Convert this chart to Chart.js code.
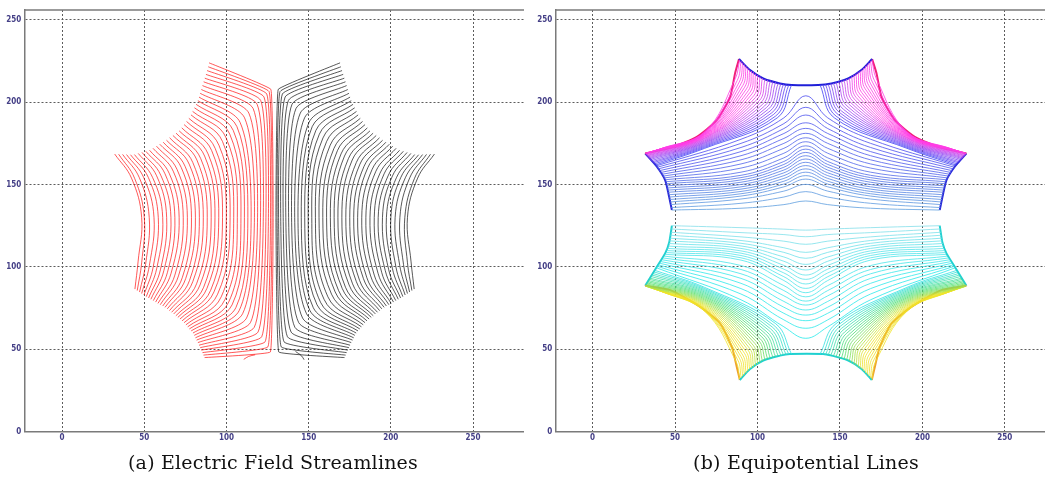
<!DOCTYPE html>
<html>
<head>
<meta charset="utf-8">
<script src="https://cdn.jsdelivr.net/npm/chart.js@4.4.0/dist/chart.umd.min.js"></script>
<style>
html, body { margin: 0; padding: 0; background: #fff; overflow: hidden; width: 1045px; height: 477px; }
.panel { position: absolute; top: 0; width: 524px; height: 477px; }
#boxA { left: 0; }
#boxB { left: 531px; }
.cap { position: absolute; top: 451px; font-family: "DejaVu Serif", serif; font-size: 19px; color: #111;
       letter-spacing: 0.2px; white-space: nowrap; transform: translateX(-50%); }
</style>
</head>
<body>
<div class="panel" id="boxA"><canvas id="chartA" width="524" height="477"></canvas></div>
<div class="panel" id="boxB"><canvas id="chartB" width="524" height="477"></canvas></div>
<div class="cap" style="left:273px">(a) Electric Field Streamlines</div>
<div class="cap" style="left:806px">(b) Equipotential Lines</div>
<script>
// axis ticks (both panels)
const xTicks = [0, 50, 100, 150, 200, 250];
const yTicks = [0, 50, 100, 150, 200, 250];

// ---- (a) streamlines: each line = bottom end, lower bend, middle (y=130), upper bend, top end
const streamMidY = 130;
const redBotX  = [44.3, 45.7, 47.1, 48.4, 49.8, 51.2, 52.6, 54.0, 55.5, 56.9, 58.3, 59.7, 61.2, 62.6, 64.0, 65.3, 66.6, 67.9, 69.2, 70.4, 71.7, 73.0, 74.2, 75.3, 76.4, 77.4, 78.5, 79.6, 80.4, 81.1, 81.8, 82.6, 83.3, 84.0, 84.7, 85.4, 86.0, 86.7];
const streamBotY = [86.5, 85.6, 84.7, 83.8, 82.9, 81.9, 81.1, 80.3, 79.5, 78.6, 77.8, 77.0, 76.2, 75.4, 74.5, 73.4, 72.4, 71.4, 70.3, 69.3, 68.3, 67.2, 66.1, 64.8, 63.6, 62.3, 61.1, 59.8, 58.4, 56.9, 55.5, 54.0, 52.4, 50.9, 49.4, 47.9, 46.4, 44.9];
const redLowX  = [46.2, 48.4, 50.8, 53.1, 55.4, 57.6, 59.8, 61.9, 64.1, 66.3, 68.6, 70.8, 73.1, 75.2, 77.5, 79.5, 81.8, 83.9, 86.1, 88.1, 90.3, 92.4, 94.6, 96.8, 99.1, 101.3, 103.4, 105.7, 107.7, 109.8, 112.2, 114.6, 116.9, 119.2, 121.4, 123.5, 125.2, 126.7];
const streamLowY = [103.0, 102.5, 101.5, 100.9, 99.9, 99.2, 98.2, 97.7, 96.7, 96.1, 95.0, 94.5, 93.4, 92.9, 91.7, 91.0, 89.7, 89.0, 87.6, 86.9, 85.6, 84.8, 83.4, 81.8, 80.2, 78.5, 76.9, 75.2, 73.4, 71.5, 68.9, 66.2, 63.3, 60.4, 57.5, 54.5, 51.4, 48.3];
const redMidX  = [48.4, 50.0, 53.0, 55.9, 58.5, 61.2, 63.6, 66.2, 68.6, 71.2, 73.7, 76.2, 78.7, 81.1, 83.5, 85.9, 88.3, 90.7, 93.0, 95.3, 97.6, 99.9, 102.2, 104.4, 106.6, 108.8, 110.9, 113.0, 115.0, 117.0, 118.9, 120.7, 122.4, 124.0, 125.5, 126.8, 127.7, 128.4];
const redHighX = [42.2, 44.1, 47.0, 49.7, 52.4, 55.0, 57.5, 60.0, 62.6, 65.1, 67.6, 70.0, 72.5, 74.8, 77.3, 79.5, 82.0, 84.3, 86.7, 88.8, 91.0, 93.1, 95.4, 97.6, 99.8, 102.0, 104.1, 106.3, 108.3, 111.0, 113.6, 116.2, 118.6, 120.8, 122.8, 124.5, 125.9, 127.0];
const streamHighY = [153.9, 153.8, 154.1, 154.1, 154.4, 154.4, 155.3, 155.7, 156.5, 156.9, 158.1, 159.0, 160.3, 161.1, 162.4, 163.4, 164.9, 165.8, 167.3, 168.6, 170.6, 172.0, 173.9, 176.1, 178.3, 180.6, 182.9, 185.3, 187.7, 190.5, 193.4, 196.2, 198.8, 201.1, 203.2, 205.0, 206.5, 207.8];
const redTopX  = [32.0, 34.4, 36.8, 39.2, 41.6, 44.0, 46.3, 48.6, 50.9, 53.2, 55.3, 57.4, 59.4, 61.5, 63.5, 65.4, 67.4, 69.3, 71.2, 72.8, 74.2, 75.7, 77.1, 78.4, 79.4, 80.5, 81.5, 82.6, 83.3, 84.0, 84.7, 85.4, 86.1, 86.8, 87.5, 88.2, 88.9, 89.4];
const streamTopY = [168.5, 168.4, 168.3, 168.2, 168.1, 168.2, 168.9, 169.5, 170.2, 170.8, 172.0, 173.3, 174.5, 175.7, 176.9, 178.4, 179.8, 181.2, 182.6, 184.4, 186.4, 188.3, 190.2, 192.3, 194.4, 196.6, 198.7, 200.9, 203.1, 205.4, 207.7, 210.1, 212.4, 214.6, 216.9, 219.2, 221.5, 223.9];

const blackBotX  = [214.2, 212.8, 211.4, 210.1, 208.7, 207.3, 205.9, 204.5, 203.0, 201.6, 200.2, 198.8, 197.3, 195.9, 194.5, 193.2, 191.9, 190.6, 189.3, 188.1, 186.8, 185.5, 184.3, 183.2, 182.1, 181.1, 180.0, 178.9, 178.1, 177.4, 176.7, 175.9, 175.2, 174.5, 173.8, 173.1, 172.5, 171.8];
const blackLowX  = [212.3, 210.1, 207.7, 205.4, 203.1, 200.9, 198.7, 196.6, 194.4, 192.2, 189.9, 187.7, 185.4, 183.3, 181.0, 179.0, 176.7, 174.6, 172.4, 170.4, 168.2, 166.1, 163.9, 161.7, 159.4, 157.2, 155.1, 152.8, 150.8, 148.7, 146.3, 143.9, 141.6, 139.3, 137.1, 135.0, 133.3, 131.8];
const blackMidX  = [210.1, 208.5, 205.5, 202.6, 200.0, 197.3, 194.9, 192.3, 189.9, 187.3, 184.8, 182.3, 179.8, 177.4, 175.0, 172.6, 170.2, 167.8, 165.5, 163.2, 160.9, 158.6, 156.3, 154.1, 151.9, 149.7, 147.6, 145.5, 143.5, 141.5, 139.6, 137.8, 136.1, 134.5, 133.0, 131.7, 130.8, 130.1];
const blackHighX = [216.3, 214.4, 211.5, 208.8, 206.1, 203.5, 201.0, 198.5, 195.9, 193.4, 190.9, 188.5, 186.0, 183.7, 181.2, 179.0, 176.5, 174.2, 171.8, 169.7, 167.5, 165.4, 163.1, 160.9, 158.7, 156.5, 154.4, 152.2, 150.2, 147.5, 144.9, 142.3, 139.9, 137.7, 135.7, 134.0, 132.6, 131.5];
const blackTopX  = [226.5, 224.1, 221.7, 219.3, 216.9, 214.5, 212.2, 209.9, 207.6, 205.3, 203.2, 201.1, 199.1, 197.0, 195.0, 193.1, 191.1, 189.2, 187.3, 185.7, 184.3, 182.8, 181.4, 180.1, 179.1, 178.0, 177.0, 175.9, 175.2, 174.5, 173.8, 173.1, 172.4, 171.7, 171.0, 170.3, 169.6, 169.1];

// short stray streamlines at the bottom
const redTailX = [110.5, 113.5, 117.5];
const redTailY = [43.8, 45.6, 46.6];
const blackTailX = [147.2, 145.6, 142.0];
const blackTailY = [43.6, 46.0, 48.6];

// ---- (b) equipotential lines
// lines crossing the middle: sampled at these x positions
const crossX = [90, 116, 129.3, 142.6, 168.6];
const tcLX = [48.1, 47.8, 47.4, 47.1, 46.8, 46.5, 46.2, 45.9, 45.6, 45.3, 45.0, 44.7, 44.4, 44.0, 43.3, 42.6, 41.9, 41.2, 40.5, 39.8, 39.2, 38.6];
const tcRX = [210.5, 210.8, 211.2, 211.5, 211.8, 212.1, 212.4, 212.7, 213.0, 213.3, 213.6, 213.9, 214.2, 214.6, 215.3, 216.0, 216.7, 217.4, 218.1, 218.8, 219.4, 220.0];
const tcLY = [134.5, 136.0, 137.8, 139.4, 140.9, 142.4, 143.8, 145.3, 146.6, 147.9, 149.2, 150.5, 151.7, 152.9, 154.0, 155.1, 156.2, 157.3, 158.4, 159.5, 160.5, 161.3];
const tcAY = [135.6, 138.6, 141.2, 143.0, 144.4, 145.8, 147.2, 148.6, 150.0, 151.4, 152.8, 154.2, 155.6, 157.5, 160.0, 162.5, 165.0, 167.5, 170.0, 172.5, 175.0, 177.5];
const tcBY = [137.8, 142.4, 146.0, 148.6, 150.3, 152.0, 153.7, 155.4, 157.1, 158.8, 160.5, 162.2, 164.0, 166.2, 169.0, 172.0, 175.0, 178.0, 181.0, 184.0, 187.0, 190.5];
const tcCY = [140.0, 145.7, 150.1, 153.3, 155.4, 157.5, 159.5, 161.5, 163.5, 165.5, 167.5, 169.5, 171.5, 173.5, 176.0, 178.4, 181.1, 184.1, 187.5, 192.2, 196.9, 203.9];

const bcLX = [48.1, 47.8, 47.5, 47.2, 46.9, 46.6, 46.3, 45.9, 45.5, 45.0, 44.6, 44.2, 43.5, 42.8, 42.1, 41.4, 40.7, 40.0, 39.4, 38.8];
const bcRX = [210.5, 210.8, 211.1, 211.4, 211.7, 212.0, 212.3, 212.7, 213.1, 213.6, 214.0, 214.4, 215.1, 215.8, 216.5, 217.2, 217.9, 218.6, 219.2, 219.8];
const bcLY = [125.0, 123.0, 121.0, 119.2, 117.4, 115.8, 114.2, 112.6, 111.2, 109.9, 108.7, 107.6, 106.5, 105.4, 104.3, 103.2, 102.2, 101.2, 100.3, 99.4];
const bcAY = [123.8, 120.8, 118.2, 116.0, 114.3, 112.7, 111.2, 109.7, 108.3, 106.9, 105.5, 104.1, 100.8, 98.4, 95.8, 93.0, 90.0, 86.8, 83.5, 80.0];
const bcBY = [122.9, 119.6, 115.6, 111.6, 108.8, 106.0, 103.4, 100.9, 98.6, 96.3, 94.0, 91.7, 88.6, 85.6, 82.4, 79.0, 75.5, 71.8, 67.8, 63.6];
const bcCY = [122.3, 118.3, 113.7, 108.8, 105.2, 101.5, 98.1, 95.0, 92.4, 89.6, 86.9, 84.3, 81.8, 79.2, 76.8, 73.8, 70.7, 67.3, 62.7, 56.6];

// lines running from the side tips to the notched top / bottom edge
const edgeMidX = [68, 190.6];
const teLX  = [38.0, 37.4, 36.8, 36.2, 35.6, 35.0, 34.5, 34.0, 33.6, 33.2, 32.9, 32.6, 32.3, 32.1, 32.3, 32.8, 33.5, 34.3, 35.2, 36.2, 37.3, 38.5, 39.8, 41.2];
const teLXr = [220.6, 221.2, 221.8, 222.4, 223.0, 223.6, 224.1, 224.6, 225.0, 225.4, 225.7, 226.0, 226.3, 226.5, 226.3, 225.8, 225.1, 224.3, 223.4, 222.4, 221.3, 220.1, 218.8, 217.4];
const teLY  = [161.8, 162.5, 163.2, 163.8, 164.5, 165.2, 165.8, 166.3, 166.8, 167.3, 167.7, 168.1, 168.5, 168.8, 169.0, 169.2, 169.4, 169.6, 169.8, 170.1, 170.4, 170.8, 171.2, 171.7];
const teMY  = [172.0, 172.6, 173.2, 173.8, 174.4, 175.0, 175.5, 176.0, 176.5, 177.0, 177.5, 178.0, 178.4, 178.8, 179.2, 179.6, 180.0, 180.3, 180.6, 180.9, 181.2, 181.5, 181.8, 182.0];
const teNX  = [112.0, 110.9, 109.8, 108.7, 107.6, 106.5, 105.4, 104.3, 103.2, 102.1, 101.0, 99.9, 98.8, 97.7, 96.6, 95.5, 94.4, 93.3, 92.2, 91.1, 90.0, 88.9, 87.7, 86.5];
const teNXr = [146.6, 147.7, 148.8, 149.9, 151.0, 152.1, 153.2, 154.3, 155.4, 156.5, 157.6, 158.7, 159.8, 160.9, 162.0, 163.1, 164.2, 165.3, 166.4, 167.5, 168.6, 169.7, 170.9, 172.1];
const teNY  = [190.5, 191.5, 192.6, 193.6, 194.6, 195.7, 196.7, 197.7, 198.8, 199.8, 200.8, 201.9, 202.9, 203.9, 205.0, 206.0, 207.0, 208.1, 209.1, 210.1, 211.2, 212.2, 213.2, 214.2];
const teEX  = [120.6, 119.0, 117.4, 115.8, 114.2, 112.6, 111.0, 109.4, 107.8, 106.2, 104.6, 103.0, 101.6, 100.2, 98.9, 97.6, 96.4, 95.3, 94.2, 93.1, 92.1, 91.1, 90.1, 89.2];
const teEXr = [138.0, 139.6, 141.2, 142.8, 144.4, 146.0, 147.6, 149.2, 150.8, 152.4, 154.0, 155.6, 157.0, 158.4, 159.7, 161.0, 162.2, 163.3, 164.4, 165.5, 166.5, 167.5, 168.5, 169.4];
const teEY  = [210.4, 210.6, 210.9, 211.1, 211.3, 211.7, 212.2, 212.6, 213.1, 213.6, 214.1, 214.7, 215.6, 216.5, 217.3, 218.2, 218.9, 219.7, 220.8, 221.9, 222.9, 223.9, 224.9, 225.8];

const ebLY  = [97.8, 96.9, 95.9, 95.0, 94.1, 93.1, 92.4, 91.6, 90.9, 90.2, 89.6, 89.1, 88.7, 88.4, 88.2, 88.0, 87.8, 87.6, 87.3, 87.0, 86.7, 86.3, 85.9, 85.4];
const ebMY  = [87.5, 86.8, 86.1, 85.4, 84.7, 84.0, 83.3, 82.6, 81.9, 81.2, 80.5, 79.8, 79.1, 78.4, 77.7, 77.0, 76.3, 75.6, 75.0, 74.5, 74.0, 73.6, 73.3, 73.0];
const ebNX  = [111.0, 109.9, 108.9, 107.8, 106.8, 105.7, 104.7, 103.6, 102.6, 101.5, 100.5, 99.4, 98.4, 97.3, 96.3, 95.2, 94.2, 93.1, 92.1, 91.0, 90.0, 89.0, 88.0, 87.0];
const ebNXr = [147.6, 148.7, 149.7, 150.8, 151.8, 152.9, 153.9, 155.0, 156.0, 157.1, 158.1, 159.2, 160.2, 161.3, 162.3, 163.4, 164.4, 165.5, 166.5, 167.6, 168.6, 169.6, 170.6, 171.6];
const ebNY  = [65.5, 64.5, 63.5, 62.5, 61.5, 60.5, 59.5, 58.5, 57.5, 56.5, 55.5, 54.5, 53.5, 52.5, 51.5, 50.5, 49.5, 48.5, 47.5, 46.5, 45.5, 44.5, 43.5, 42.4];
const ebEY  = [47.1, 46.9, 46.6, 46.4, 46.2, 45.8, 45.3, 44.9, 44.4, 43.9, 43.4, 42.8, 41.9, 41.0, 40.2, 39.3, 38.6, 37.8, 36.7, 35.6, 34.6, 33.6, 32.6, 31.7];

// domain outline in (b)
const topNotchX = [88.8, 95.5, 103.5, 113.6, 120.7, 136.8, 144.9, 155.0, 163.0, 169.5];
const topNotchY = [226.2, 219.5, 214.4, 211.4, 210.4, 210.4, 211.4, 214.4, 219.5, 226.2];
const upLeftX = [31.9, 49.0, 63.2, 75.3, 83.4, 86.4, 88.8];
const upRightX = [226.7, 209.6, 195.4, 183.3, 175.2, 172.2, 169.5];
const upSideY = [168.9, 172.9, 179.0, 189.1, 203.3, 217.5, 226.2];
const sideTopLX = [31.9, 39.0, 44.0, 46.0, 48.1];
const sideTopRX = [226.7, 219.6, 214.6, 212.6, 210.5];
const sideTopY = [168.9, 160.8, 152.7, 144.6, 134.5];
const botNotchX = [89.3, 95.5, 103.5, 113.6, 119.7, 139.8, 145.0, 155.1, 163.1, 169.3];
const botNotchY = [31.3, 38.0, 43.1, 46.1, 47.1, 47.1, 46.1, 43.1, 38.0, 31.3];
const lowLeftX = [31.9, 47.0, 65.0, 77.3, 84.4, 87.4, 89.3];
const lowRightX = [226.7, 211.6, 193.6, 181.3, 174.2, 171.2, 169.3];
const lowSideY = [88.5, 85.9, 75.8, 65.7, 51.5, 39.3, 31.3];
const sideBotLX = [31.9, 39.0, 44.0, 46.5, 48.1];
const sideBotRX = [226.7, 219.6, 214.6, 212.1, 210.5];
const sideBotY = [88.5, 100.1, 108.2, 115.0, 125.0];

function pts(xs, ys) { return xs.map((x, k) => ({ x: x, y: ys[k] })); }
function line(xs, ys, color, width, tension) {
    return { data: pts(xs, ys), borderColor: color, borderWidth: width, tension: tension,
             showLine: true, pointRadius: 0, fill: false };
}
function mix(a, b, t, alpha) {
    const c = a.map((v, k) => Math.round(v + (b[k] - v) * t));
    return 'rgba(' + c.join(',') + ',' + alpha + ')';
}
function mix3(a, b, c, t, alpha) {
    t = Math.min(1, Math.max(0, t));
    return t < 0.5 ? mix(a, b, t * 2, alpha) : mix(b, c, (t - 0.5) * 2, alpha);
}

function axis(min, max, ticks, isX) {
    return {
        type: 'linear', min: min, max: max,
        afterBuildTicks: s => { s.ticks = ticks.map(v => ({ value: v })); },
        afterFit: s => { if (isX) s.height = 45.5; else s.width = 24.3; },
        grid: { color: '#5c5c5c', lineWidth: 1, drawTicks: false },
        border: { display: true, color: '#7a7a7a', width: 1.5, dash: [2, 2] },
        ticks: { color: '#443f86', padding: isX ? 2 : 3, autoSkip: false, maxRotation: 0,
                 font: { family: 'DejaVu Sans Condensed', size: 8, weight: 'bold' } }
    };
}

const frameTop = {
    id: 'frameTop',
    beforeDatasetsDraw(c) {
        const a = c.chartArea, ctx = c.ctx;
        ctx.save();
        ctx.strokeStyle = '#7a7a7a';
        ctx.lineWidth = 1.5;
        ctx.beginPath();
        ctx.moveTo(a.left, a.top);
        ctx.lineTo(a.right, a.top);
        ctx.stroke();
        ctx.restore();
    }
};

function options(xmin, xmax) {
    return {
        responsive: false, animation: false, events: [],
        layout: { padding: { top: 10, left: 0, right: 0, bottom: 0 } },
        plugins: { legend: { display: false }, tooltip: { enabled: false } },
        scales: { x: axis(xmin, xmax, xTicks, true), y: axis(0, 256, yTicks, false) }
    };
}

// ---- build (a)
const setsA = [];
redMidX.forEach((m, i) => {
    const ten = i <= 24 ? 0.4 : 0.4 - (i - 24) * 0.027;
    const ys = [streamBotY[i], streamLowY[i], streamMidY, streamHighY[i], streamTopY[i]];
    setsA.push(line([redBotX[i], redLowX[i], m, redHighX[i], redTopX[i]], ys, 'rgba(255,0,0,0.66)', 1, ten));
    setsA.push(line([blackBotX[i], blackLowX[i], blackMidX[i], blackHighX[i], blackTopX[i]], ys, 'rgba(0,0,0,0.66)', 1, ten));
});
setsA.push(line(redTailX, redTailY, 'rgba(255,0,0,0.66)', 1, 0.4));
setsA.push(line(blackTailX, blackTailY, 'rgba(0,0,0,0.66)', 1, 0.4));

new Chart(document.getElementById('chartA'), {
    type: 'scatter',
    data: { datasets: setsA },
    options: options(-23, 281),
    plugins: [frameTop]
});

// ---- build (b)
const setsB = [];
tcCY.forEach((cy, k) => {
    const t = k / (tcCY.length - 1);
    setsB.push(line([tcLX[k], ...crossX, tcRX[k]],
        [tcLY[k], tcAY[k], tcBY[k], cy, tcBY[k], tcAY[k], tcLY[k]],
        mix([105, 165, 225], [85, 85, 240], t, 0.85), 1, 0.4));
});
bcCY.forEach((cy, k) => {
    const t = k / (bcCY.length - 1);
    setsB.push(line([bcLX[k], ...crossX, bcRX[k]],
        [bcLY[k], bcAY[k], bcBY[k], cy, bcBY[k], bcAY[k], bcLY[k]],
        mix([140, 225, 235], [50, 235, 235], t, 0.85), 1, 0.4));
});
teNY.forEach((ny, j) => {
    const t = j / (teNY.length - 1);
    const cTop = mix3([65, 65, 245], [170, 70, 240], [255, 60, 230], t * 1.7, 0.8);
    const cBot = mix3([50, 225, 225], [80, 222, 110], [240, 228, 40], t * 1.35, 0.8);
    setsB.push(line([teLX[j], edgeMidX[0], teNX[j], teEX[j]], [teLY[j], teMY[j], ny, teEY[j]], cTop, 1, 0.4));
    setsB.push(line([teLXr[j], edgeMidX[1], teNXr[j], teEXr[j]], [teLY[j], teMY[j], ny, teEY[j]], cTop, 1, 0.4));
    setsB.push(line([teLX[j], edgeMidX[0], ebNX[j], teEX[j]], [ebLY[j], ebMY[j], ebNY[j], ebEY[j]], cBot, 1, 0.4));
    setsB.push(line([teLXr[j], edgeMidX[1], ebNXr[j], teEXr[j]], [ebLY[j], ebMY[j], ebNY[j], ebEY[j]], cBot, 1, 0.4));
});
// outline
setsB.push(line(topNotchX, topNotchY, '#1f1fd8', 2, 0.3));
setsB.push(line(upLeftX, upSideY, '#f0207a', 2, 0.2));
setsB.push(line(upRightX, upSideY, '#f0207a', 2, 0.2));
setsB.push(line(sideTopLX, sideTopY, '#2a2ad8', 2, 0.2));
setsB.push(line(sideTopRX, sideTopY, '#2a2ad8', 2, 0.2));
setsB.push(line(botNotchX, botNotchY, '#1fd0d0', 2, 0.3));
setsB.push(line(lowLeftX, lowSideY, '#eea030', 2, 0.2));
setsB.push(line(lowRightX, lowSideY, '#eea030', 2, 0.2));
setsB.push(line(sideBotLX, sideBotY, '#22d0d0', 2, 0.2));
setsB.push(line(sideBotRX, sideBotY, '#22d0d0', 2, 0.2));

new Chart(document.getElementById('chartB'), {
    type: 'scatter',
    data: { datasets: setsB },
    options: options(-22.6, 280.4),
    plugins: [frameTop]
});
</script>
</body>
</html>
